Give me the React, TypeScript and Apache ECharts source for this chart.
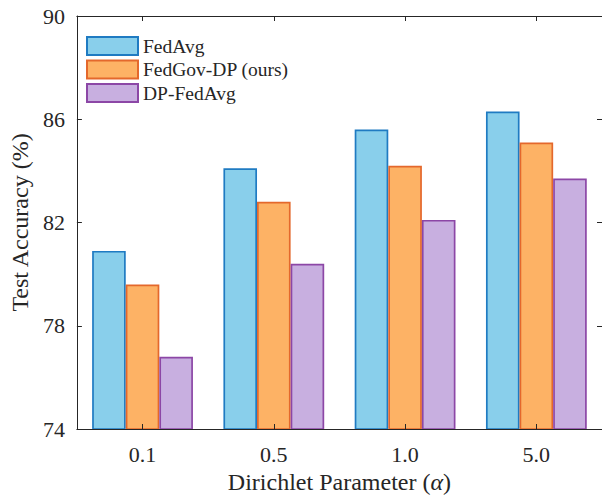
import React, { useEffect, useRef } from "react";
import * as echarts from "echarts";

const categories = ["0.1", "0.5", "1.0", "5.0"];
const fedAvg = [80.9, 84.1, 85.6, 86.3];
const fedGovDP = [79.6, 82.8, 84.2, 85.1];
const dpFedAvg = [76.8, 80.4, 82.1, 83.7];
const seriesNames = ["FedAvg", "FedGov-DP (ours)", "DP-FedAvg"];
const yTicks = { min: 74, max: 90, interval: 4 };

const FONT = "'Liberation Serif', 'Times New Roman', serif";
const TXT = "#262626";
const AX = "#262626";

const fills = ["#89CFEB", "#FDB265", "#C8AFE0"];
const borders = ["#1F7BC2", "#E4682C", "#8C47A6"];

export default function App() {
  const ref = useRef<HTMLDivElement>(null);
  useEffect(() => {
    if (!ref.current) return;
    const chart = echarts.init(ref.current, null, { renderer: "svg" });
    const data = [fedAvg, fedGovDP, dpFedAvg];
    const axisLine = { show: true, lineStyle: { color: AX, width: 1 } };
    const option: any = {
      animation: false,
      backgroundColor: "#ffffff",
      textStyle: { fontFamily: FONT, color: TXT },
      legend: {
        orient: "vertical",
        left: 86,
        top: 36,
        padding: 0,
        itemWidth: 51,
        itemHeight: 18,
        itemGap: 3.5,
        icon: "rect",
        textStyle: { fontFamily: FONT, fontSize: 19.5, color: TXT },
        data: seriesNames,
      },
      grid: { left: 67, top: 16, width: 538.6, height: 418.3, containLabel: false },
      xAxis: [
        {
          type: "category",
          data: categories,
          position: "bottom",
          z: 5,
          axisLine,
          axisTick: { show: true, inside: true, length: 5, alignWithLabel: true, lineStyle: { color: AX } },
          axisLabel: { fontFamily: FONT, fontSize: 22, color: TXT, margin: 14 },
          name: "Dirichlet Parameter ({i|\u03b1})",
          nameLocation: "middle",
          nameGap: 41,
          nameTextStyle: {
            fontFamily: FONT,
            fontSize: 24,
            color: TXT,
            rich: { i: { fontFamily: FONT, fontSize: 24, fontStyle: "italic", color: TXT } },
          },
        },
        {
          type: "category",
          data: categories,
          position: "top",
          z: 5,
          axisLine,
          axisTick: { show: true, inside: true, length: 5, alignWithLabel: true, lineStyle: { color: AX } },
          axisLabel: { show: false },
        },
      ],
      yAxis: [
        {
          type: "value",
          min: yTicks.min,
          max: yTicks.max,
          interval: yTicks.interval,
          position: "left",
          z: 5,
          axisLine,
          splitLine: { show: false },
          axisTick: { show: true, inside: true, length: 5, lineStyle: { color: AX } },
          axisLabel: { fontFamily: FONT, fontSize: 22, color: TXT, margin: 12 },
          name: "Test Accuracy (%)",
          nameLocation: "middle",
          nameGap: 39,
          nameRotate: 90,
          nameTextStyle: { fontFamily: FONT, fontSize: 24, color: TXT },
        },
        {
          type: "value",
          min: yTicks.min,
          max: yTicks.max,
          interval: yTicks.interval,
          position: "right",
          z: 5,
          axisLine,
          splitLine: { show: false },
          axisTick: { show: true, inside: true, length: 5, lineStyle: { color: AX } },
          axisLabel: { show: false },
        },
      ],
      series: seriesNames.map((name, i) => ({
        name,
        type: "bar",
        xAxisIndex: 0,
        yAxisIndex: 0,
        data: data[i],
        barWidth: 33.6,
        barGap: "0%",
        itemStyle: { color: fills[i], borderColor: borders[i], borderWidth: 1.7 },
      })),
    };
    chart.setOption(option);
    return () => chart.dispose();
  }, []);
  return (
    <div
      ref={ref}
      style={{ position: "fixed", left: 0, top: 0, width: 602, height: 499, background: "#fff" }}
    />
  );
}
